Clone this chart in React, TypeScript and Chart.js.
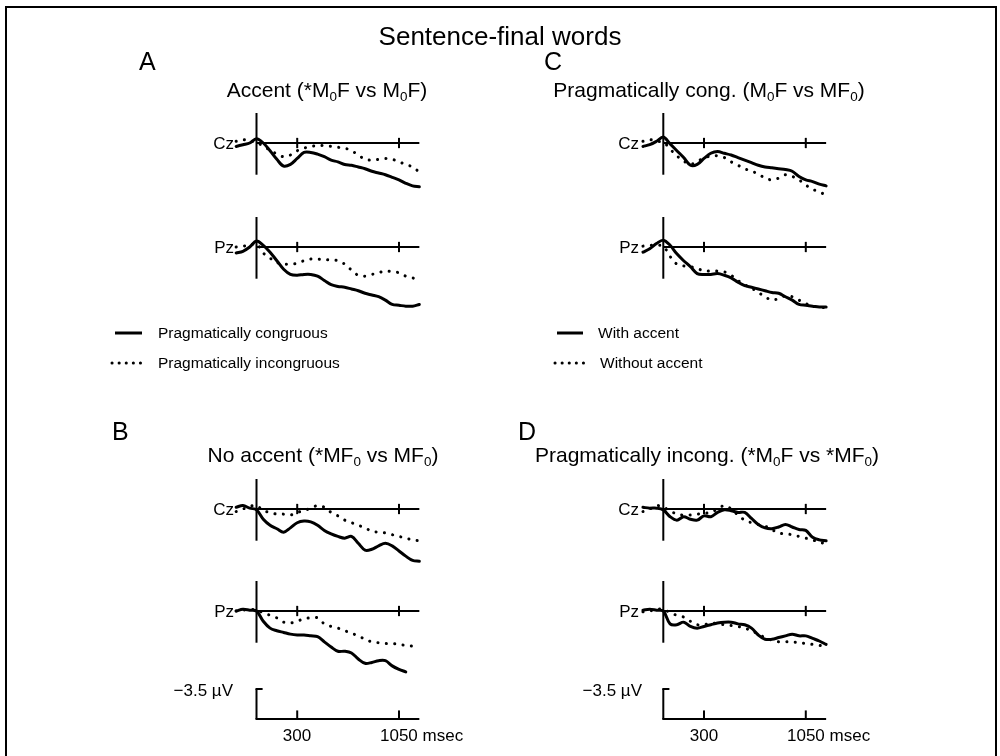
import React, { useEffect, useRef } from 'react';
import { Chart, registerables } from 'chart.js';

Chart.register(...registerables);

// ---------- data (µV, negative plotted upward) ----------
const TIMES = [-150, -100, -50, 0, 50, 100, 150, 200, 250, 300, 350, 400, 450, 500, 550, 600, 650, 700, 750, 800, 850, 900, 950, 1000, 1050, 1100, 1150, 1200];
const TICK_TIMES = [300, 1050];
const CAL_UV = 3.5;

// Panel A: Accent (*M0F vs M0F)
const A_CZ_CONG = [0.4, 0.2, 0, -0.5, 0, 0.9, 1.9, 2.7, 2.5, 1.8, 1.1, 1.1, 1.3, 1.6, 2.0, 2.2, 2.5, 2.6, 2.8, 3.0, 3.3, 3.5, 3.7, 4.0, 4.3, 4.7, 5.0, 5.1];
const A_CZ_INCONG = [-0.2, -0.4, -0.2, -0.1, 0.4, 0.8, 1.3, 1.6, 1.4, 0.9, 0.6, 0.4, 0.3, 0.3, 0.4, 0.5, 0.6, 0.9, 1.4, 1.9, 2.0, 1.9, 1.8, 1.9, 2.2, 2.5, 2.8, 3.4];
const A_PZ_CONG = [0.7, 0.5, 0, -0.7, -0.2, 0.6, 1.6, 2.6, 3.2, 3.3, 3.2, 3.2, 3.4, 3.9, 4.4, 4.6, 4.7, 4.9, 5.1, 5.4, 5.6, 5.8, 6.2, 6.7, 6.8, 6.9, 6.9, 6.7];
const A_PZ_INCONG = [0, -0.1, -0.2, -0.4, 0.7, 1.3, 1.8, 2.0, 2.0, 1.9, 1.6, 1.4, 1.4, 1.5, 1.5, 1.6, 2.0, 2.7, 3.3, 3.4, 3.2, 3.0, 2.8, 2.9, 3.0, 3.4, 3.6, 3.9];

// Panel B: No accent (*MF0 vs MF0)
const B_CZ_CONG = [-0.2, -0.4, -0.1, 0.1, 1.2, 1.9, 2.3, 2.7, 2.2, 1.6, 1.4, 1.5, 1.9, 2.5, 2.9, 3.2, 3.4, 3.2, 4.0, 4.8, 4.7, 4.3, 4.0, 4.3, 4.9, 5.5, 6.0, 6.1];
const B_CZ_INCONG = [0.3, 0, -0.3, -0.4, 0.2, 0.4, 0.6, 0.6, 0.7, 0.4, 0.2, -0.1, -0.4, -0.2, 0.4, 0.8, 1.3, 1.6, 1.9, 2.2, 2.6, 2.7, 2.8, 3.0, 3.2, 3.4, 3.6, 3.7];
const B_PZ_CONG = [0, -0.2, -0.1, 0, 1.2, 2.0, 2.3, 2.5, 2.7, 2.8, 2.8, 2.9, 3.0, 3.6, 4.2, 4.7, 4.7, 4.9, 5.6, 6.1, 6.0, 5.8, 5.8, 6.4, 6.8, 7.1, null, null];
const B_PZ_INCONG = [0, -0.1, -0.2, -0.1, 0.2, 0.5, 0.8, 1.3, 1.4, 1.2, 0.9, 0.8, 0.8, 1.5, 1.8, 2.0, 2.3, 2.6, 2.9, 3.3, 3.6, 3.7, 3.8, 3.8, 3.9, 4.0, 4.1, 4.3];

// Panel C: Pragmatically cong. (M0F vs MF0)
const C_CZ_ACC = [0.4, 0.2, -0.2, -0.7, 0.1, 0.9, 1.7, 2.6, 2.5, 1.8, 1.2, 1.0, 1.2, 1.4, 1.7, 2.0, 2.3, 2.6, 2.8, 2.9, 3.0, 3.1, 3.3, 3.9, 4.3, 4.5, 4.8, 5.0];
const C_CZ_NOACC = [-0.2, -0.4, -0.2, -0.1, 0.7, 1.5, 2.1, 2.5, 2.1, 1.8, 1.5, 1.5, 1.7, 2.2, 2.6, 3.0, 3.3, 3.6, 4.1, 4.3, 4.1, 3.7, 3.9, 4.3, 4.9, 5.4, 5.7, 6.1];
const C_PZ_ACC = [0.6, 0.2, -0.4, -0.8, -0.2, 0.8, 1.6, 2.3, 3.1, 3.2, 3.2, 3.1, 3.3, 3.6, 4.1, 4.5, 4.7, 4.9, 5.1, 5.3, 5.4, 5.8, 6.2, 6.7, 6.8, 6.9, 7.0, 7.0];
const C_PZ_NOACC = [-0.1, -0.2, -0.2, -0.1, 1.1, 2.0, 2.2, 2.3, 2.5, 2.8, 2.8, 2.8, 2.9, 3.3, 3.9, 4.4, 4.8, 5.3, 5.8, 6.2, 6.0, 5.7, 5.8, 6.2, 6.6, 6.9, 7.0, 7.1];

// Panel D: Pragmatically incong. (*M0F vs *MF0)
const D_CZ_ACC = [-0.2, -0.1, -0.1, 0.1, 0.9, 1.3, 0.9, 1.2, 1.3, 0.8, 0.9, 0.4, 0.1, 0.2, 0.4, 0.4, 1.1, 1.8, 2.2, 2.3, 2.1, 1.8, 2.1, 2.4, 2.5, 3.3, 3.6, 3.7];
const D_CZ_NOACC = [0.3, 0, -0.4, -0.2, 0.2, 0.6, 0.7, 0.7, 0.6, 0.5, 0.4, 0, -0.4, 0, 0.7, 1.3, 1.6, 1.8, 2.0, 2.4, 2.8, 2.9, 3.0, 3.2, 3.4, 3.6, 3.9, 4.0];
const D_PZ_ACC = [-0.1, -0.2, -0.1, 0, 1.5, 1.6, 1.3, 1.8, 2.0, 1.8, 1.6, 1.4, 1.3, 1.3, 1.5, 1.6, 2.0, 2.8, 3.3, 3.3, 3.1, 2.9, 2.7, 2.9, 2.9, 3.2, 3.5, 3.9];
const D_PZ_NOACC = [0.1, 0, -0.2, -0.2, 0.2, 0.5, 0.7, 1.2, 1.6, 1.6, 1.4, 1.5, 1.6, 1.7, 1.8, 2.0, 2.3, 2.7, 3.1, 3.4, 3.6, 3.6, 3.6, 3.7, 3.8, 3.9, 4.0, 4.2];

// ---------- layout ----------
const W = 1000;
const H = 756;
const KX = 0.1357; // px per ms
const KY = 30 / 3.5; // px per µV
const X0_LEFT = 256.5;
const X0_RIGHT = 663.3;
const BASE = { czTop: 143, pzTop: 247, czBot: 509, pzBot: 611, cal: 719 };
const FONT = "'Liberation Sans', Arial, Helvetica, sans-serif";

const xScale = (x0: number) => ({
  type: 'linear' as const, display: false, min: -x0 / KX, max: (W - x0) / KX,
});
const yScale = (base: number) => ({
  type: 'linear' as const, display: false, reverse: true, min: -base / KY, max: (H - base) / KY,
});

const PLOTS = [
  { x: 'xL', y: 'yCzTop' }, { x: 'xL', y: 'yPzTop' },
  { x: 'xL', y: 'yCzBot' }, { x: 'xL', y: 'yPzBot' },
  { x: 'xR', y: 'yCzTop' }, { x: 'xR', y: 'yPzTop' },
  { x: 'xR', y: 'yCzBot' }, { x: 'xR', y: 'yPzBot' },
];

const mk = (values: (number | null)[], xId: string, yId: string, dotted: boolean) => ({
  data: values.map((v, i) => ({ x: TIMES[i], y: v })),
  xAxisID: xId,
  yAxisID: yId,
  borderColor: '#000',
  borderWidth: 3,
  borderDash: dotted ? [0.1, 8.3] : [],
  borderCapStyle: 'round' as const,
  borderJoinStyle: 'round' as const,
  pointRadius: 0,
  tension: 0.35,
  fill: false,
  spanGaps: false,
});

const line = (ctx: CanvasRenderingContext2D, x1: number, y1: number, x2: number, y2: number) => {
  ctx.beginPath();
  ctx.moveTo(x1, y1);
  ctx.lineTo(x2, y2);
  ctx.stroke();
};

const axesPlugin = {
  id: 'erpAxes',
  beforeDatasetsDraw(chart: any) {
    const ctx: CanvasRenderingContext2D = chart.ctx;
    ctx.save();
    ctx.strokeStyle = '#000';
    ctx.lineWidth = 2;
    ctx.lineCap = 'butt';
    const tEnd = TIMES[TIMES.length - 1];
    PLOTS.forEach((p) => {
      const xs = chart.scales[p.x];
      const ys = chart.scales[p.y];
      const y0 = ys.getPixelForValue(0);
      const xa = xs.getPixelForValue(0);
      line(ctx, xa, y0, xs.getPixelForValue(tEnd), y0);
      line(ctx, xa, ys.getPixelForValue(-3.5), xa, ys.getPixelForValue(3.7));
      TICK_TIMES.forEach((t) => {
        const xt = xs.getPixelForValue(t);
        line(ctx, xt, ys.getPixelForValue(-0.6), xt, ys.getPixelForValue(0.6));
      });
    });
    // time axis + calibration bar under panels B and D
    ['xL', 'xR'].forEach((xId) => {
      const xs = chart.scales[xId];
      const ys = chart.scales.yCal;
      const y0 = ys.getPixelForValue(0);
      const xa = xs.getPixelForValue(0);
      line(ctx, xa - 1, y0, xs.getPixelForValue(tEnd), y0);
      line(ctx, xa, y0, xa, ys.getPixelForValue(-CAL_UV));
      line(ctx, xa - 1, ys.getPixelForValue(-CAL_UV), xs.getPixelForValue(45), ys.getPixelForValue(-CAL_UV));
      TICK_TIMES.forEach((t) => {
        const xt = xs.getPixelForValue(t);
        line(ctx, xt, y0, xt, ys.getPixelForValue(-1));
      });
    });
    // legend samples
    ctx.lineWidth = 3;
    line(ctx, 115, 333, 142, 333);
    line(ctx, 557, 333, 583, 333);
    ctx.lineCap = 'round';
    ctx.setLineDash([0.1, 7]);
    line(ctx, 112, 363, 142, 363);
    line(ctx, 555, 363, 585, 363);
    ctx.restore();
  },
};

const Sub = ({ children }: { children: React.ReactNode }) => (
  <span style={{ fontSize: '0.64em', position: 'relative', top: '0.3em' }}>{children}</span>
);

type TP = { x: number; y: number; size: number; align?: 'left' | 'center' | 'right'; children: React.ReactNode };
const T = ({ x, y, size, align = 'left', children }: TP) => {
  const top = y - 0.8465 * size;
  const tr = align === 'center' ? 'translateX(-50%)' : align === 'right' ? 'translateX(-100%)' : 'none';
  return (
    <div
      style={{
        position: 'absolute', left: x, top, fontFamily: FONT, fontSize: size, lineHeight: `${size}px`,
        whiteSpace: 'nowrap', transform: tr, color: '#000',
      }}
    >
      {children}
    </div>
  );
};

export default function App() {
  const ref = useRef<HTMLCanvasElement | null>(null);

  useEffect(() => {
    const cv = ref.current;
    if (!cv) return;
    const datasets = [
      mk(A_CZ_CONG, 'xL', 'yCzTop', false), mk(A_CZ_INCONG, 'xL', 'yCzTop', true),
      mk(A_PZ_CONG, 'xL', 'yPzTop', false), mk(A_PZ_INCONG, 'xL', 'yPzTop', true),
      mk(B_CZ_CONG, 'xL', 'yCzBot', false), mk(B_CZ_INCONG, 'xL', 'yCzBot', true),
      mk(B_PZ_CONG, 'xL', 'yPzBot', false), mk(B_PZ_INCONG, 'xL', 'yPzBot', true),
      mk(C_CZ_ACC, 'xR', 'yCzTop', false), mk(C_CZ_NOACC, 'xR', 'yCzTop', true),
      mk(C_PZ_ACC, 'xR', 'yPzTop', false), mk(C_PZ_NOACC, 'xR', 'yPzTop', true),
      mk(D_CZ_ACC, 'xR', 'yCzBot', false), mk(D_CZ_NOACC, 'xR', 'yCzBot', true),
      mk(D_PZ_ACC, 'xR', 'yPzBot', false), mk(D_PZ_NOACC, 'xR', 'yPzBot', true),
    ];
    const chart = new Chart(cv, {
      type: 'line',
      data: { datasets } as any,
      options: {
        responsive: false,
        animation: false,
        events: [],
        layout: { padding: 0 },
        plugins: { legend: { display: false }, tooltip: { enabled: false }, title: { display: false } },
        scales: {
          xL: xScale(X0_LEFT),
          xR: xScale(X0_RIGHT),
          yCzTop: yScale(BASE.czTop),
          yPzTop: yScale(BASE.pzTop),
          yCzBot: yScale(BASE.czBot),
          yPzBot: yScale(BASE.pzBot),
          yCal: yScale(BASE.cal),
        },
      } as any,
      plugins: [axesPlugin],
    });
    return () => chart.destroy();
  }, []);

  return (
    <div style={{ position: 'fixed', left: 0, top: 0, width: W, height: H, background: '#fff', overflow: 'hidden' }}>
      <div style={{ position: 'absolute', left: 5, top: 6, width: 988, height: 800, border: '2px solid #000' }} />
      <canvas ref={ref} width={W} height={H} style={{ position: 'absolute', left: 0, top: 0 }} />

      <T x={500} y={45} size={26} align="center">Sentence-final words</T>

      <T x={139} y={70} size={25}>A</T>
      <T x={544} y={70} size={25}>C</T>
      <T x={112} y={440} size={25}>B</T>
      <T x={518} y={440} size={25}>D</T>

      <T x={327} y={97} size={21} align="center">Accent (*M<Sub>0</Sub>F vs M<Sub>0</Sub>F)</T>
      <T x={709} y={97} size={21} align="center">Pragmatically cong. (M<Sub>0</Sub>F vs MF<Sub>0</Sub>)</T>
      <T x={323} y={462} size={21} align="center">No accent (*MF<Sub>0</Sub> vs MF<Sub>0</Sub>)</T>
      <T x={707} y={462} size={21} align="center">Pragmatically incong. (*M<Sub>0</Sub>F vs *MF<Sub>0</Sub>)</T>

      <T x={234} y={BASE.czTop + 6} size={17} align="right">Cz</T>
      <T x={234} y={BASE.pzTop + 6} size={17} align="right">Pz</T>
      <T x={234} y={BASE.czBot + 6} size={17} align="right">Cz</T>
      <T x={234} y={BASE.pzBot + 6} size={17} align="right">Pz</T>
      <T x={639} y={BASE.czTop + 6} size={17} align="right">Cz</T>
      <T x={639} y={BASE.pzTop + 6} size={17} align="right">Pz</T>
      <T x={639} y={BASE.czBot + 6} size={17} align="right">Cz</T>
      <T x={639} y={BASE.pzBot + 6} size={17} align="right">Pz</T>

      <T x={158} y={338} size={15.5}>Pragmatically congruous</T>
      <T x={158} y={368} size={15.5}>Pragmatically incongruous</T>
      <T x={598} y={338} size={15.5}>With accent</T>
      <T x={600} y={368} size={15.5}>Without accent</T>

      <T x={233} y={696} size={17} align="right">−3.5 µV</T>
      <T x={642} y={696} size={17} align="right">−3.5 µV</T>

      <T x={297} y={741} size={17} align="center">300</T>
      <T x={380} y={741} size={17}>1050 msec</T>
      <T x={704} y={741} size={17} align="center">300</T>
      <T x={787} y={741} size={17}>1050 msec</T>
    </div>
  );
}
